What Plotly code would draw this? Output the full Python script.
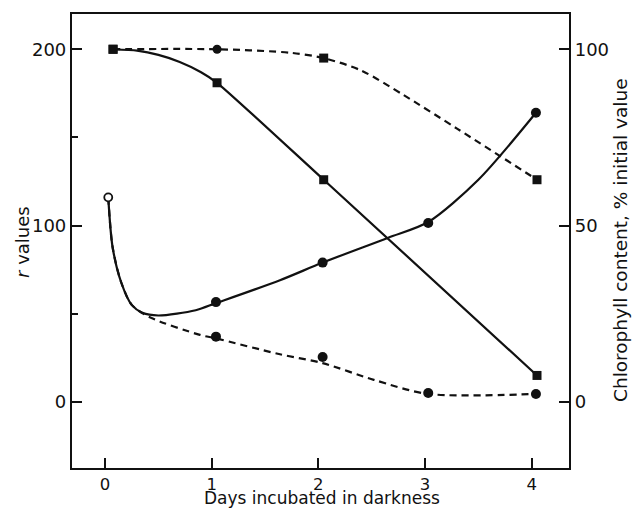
import plotly.graph_objects as go

# ---- data ----
# r values (left axis), circles
r_days = [0.03, 1.04, 2.04, 3.03, 4.04]
r_solid = [116, 56.6, 79, 101.5, 164]          # solid-line series (first point = open circle)
r_dash_days = [1.04, 2.04, 3.03, 4.04]
r_dash = [37, 25.5, 5, 4.5]                    # dashed-line series

# Chlorophyll content, % initial value (right axis), squares
chl_days = [0.075, 1.05, 2.05, 4.05]
chl_solid = [100, 90.5, 63, 7.5]
chl_dash_days = [0.075, 1.05, 2.05, 4.05]
chl_dash = [100, 100, 97.5, 63]
chl_dash_symbols = ["square", "circle", "square", "square"]

# hand-drawn fitted curves
r_solid_curve_x = [0.03, 0.07, 0.15, 0.25, 0.35, 0.5, 0.85, 1.04, 1.64, 2.04, 2.65, 3.03, 3.5, 4.04]
r_solid_curve_y = [116, 88, 68, 55, 50.5, 49, 52, 56, 69, 79, 93, 102, 126, 164]
r_dash_curve_x = [0.03, 0.07, 0.15, 0.25, 0.42, 0.89, 1.04, 1.64, 2.04, 2.52, 3.03, 4.04]
r_dash_curve_y = [116, 88, 68, 55, 48, 38, 36, 27, 22, 12.5, 4.5, 4.5]
chl_solid_curve_x = [0.075, 0.3, 0.5, 0.7, 0.9, 1.05, 2.05, 4.05]
chl_solid_curve_y = [100, 99.6, 98.4, 96.4, 93.5, 90.5, 63, 7.5]
chl_dash_curve_x = [0.075, 1.05, 1.74, 2.05, 2.4, 2.8, 3.3, 4.05]
chl_dash_curve_y = [100, 100, 99, 97.5, 94, 87, 77.5, 63]

x_ticks = [0, 1, 2, 3, 4]
left_ticks = [0, 100, 200]
left_minor = [50, 150]
right_ticks = [0, 50, 100]

BLACK = "#111111"
FONT = "DejaVu Sans, Liberation Sans, Arial, sans-serif"

fig = go.Figure()

# curves
fig.add_trace(go.Scatter(x=r_solid_curve_x, y=r_solid_curve_y, mode="lines",
                         line=dict(color=BLACK, width=2.2, shape="spline", smoothing=0.8),
                         yaxis="y", hoverinfo="skip", showlegend=False))
fig.add_trace(go.Scatter(x=r_dash_curve_x, y=r_dash_curve_y, mode="lines",
                         line=dict(color=BLACK, width=2.2, shape="spline", smoothing=0.8, dash="7px,5px"),
                         yaxis="y", hoverinfo="skip", showlegend=False))
fig.add_trace(go.Scatter(x=chl_solid_curve_x, y=chl_solid_curve_y, mode="lines",
                         line=dict(color=BLACK, width=2.2, shape="spline", smoothing=0.6),
                         yaxis="y2", hoverinfo="skip", showlegend=False))
fig.add_trace(go.Scatter(x=chl_dash_curve_x, y=chl_dash_curve_y, mode="lines",
                         line=dict(color=BLACK, width=2.2, shape="spline", smoothing=0.8, dash="7px,5px"),
                         yaxis="y2", hoverinfo="skip", showlegend=False))

# markers
fig.add_trace(go.Scatter(x=r_days[1:], y=r_solid[1:], mode="markers",
                         marker=dict(symbol="circle", size=10, color=BLACK),
                         yaxis="y", showlegend=False))
fig.add_trace(go.Scatter(x=r_days[:1], y=r_solid[:1], mode="markers",
                         marker=dict(symbol="circle", size=8, color="white",
                                     line=dict(color=BLACK, width=1.8)),
                         yaxis="y", showlegend=False))
fig.add_trace(go.Scatter(x=r_dash_days, y=r_dash, mode="markers",
                         marker=dict(symbol="circle", size=10, color=BLACK),
                         yaxis="y", showlegend=False))
fig.add_trace(go.Scatter(x=chl_days, y=chl_solid, mode="markers",
                         marker=dict(symbol="square", size=9, color=BLACK),
                         yaxis="y2", showlegend=False))
fig.add_trace(go.Scatter(x=chl_dash_days, y=chl_dash, mode="markers",
                         marker=dict(symbol=chl_dash_symbols, size=9, color=BLACK),
                         yaxis="y2", showlegend=False))

axis_common = dict(showgrid=False, zeroline=False, showline=True, linecolor=BLACK, linewidth=2.2,
                   ticks="inside", tickcolor=BLACK, tickwidth=2, ticklen=10)
tick_font = dict(family=FONT, size=18, color=BLACK)

W, H = 636, 508
L, R, T, B = 72, 67, 14, 40

fig.update_layout(
    width=W, height=H,
    margin=dict(l=L, r=R, t=T, b=B, autoexpand=False),
    paper_bgcolor="white", plot_bgcolor="white",
    xaxis=dict(range=[-0.31, 4.35], tickvals=x_ticks, mirror=True,
               tickfont=dict(family=FONT, size=16.5, color=BLACK), **axis_common),
    yaxis=dict(range=[-37.5, 220], tickvals=left_ticks, tickfont=tick_font,
               minor=dict(tickvals=left_minor, ticks="inside", ticklen=6, tickcolor=BLACK, tickwidth=2),
               **axis_common),
    yaxis2=dict(range=[-18.75, 110], tickvals=right_ticks, overlaying="y", side="right",
                tickfont=tick_font, **axis_common),
)

# axis titles placed at their pixel positions in the reference
pw, ph = W - L - R, H - T - B
def px(x):
    return (x - L) / pw
def py(y):
    return 1 - (y - T) / ph

fig.add_annotation(text="Days incubated in darkness", x=px(322), y=py(498), xref="paper", yref="paper",
                   showarrow=False, xanchor="center", yanchor="middle",
                   font=dict(family=FONT, size=17, color=BLACK))
fig.add_annotation(text="<i>r</i> values", x=px(22), y=py(242), xref="paper", yref="paper",
                   showarrow=False, textangle=-90, xanchor="center", yanchor="middle",
                   font=dict(family=FONT, size=18, color=BLACK))
fig.add_annotation(text="Chlorophyll content, % initial value", x=px(620), y=py(240), xref="paper", yref="paper",
                   showarrow=False, textangle=-90, xanchor="center", yanchor="middle",
                   font=dict(family=FONT, size=18.5, color=BLACK))

fig.write_html("out.html", config={"displayModeBar": False},
               post_script="document.body.style.margin='0';document.body.style.overflow='hidden';")
